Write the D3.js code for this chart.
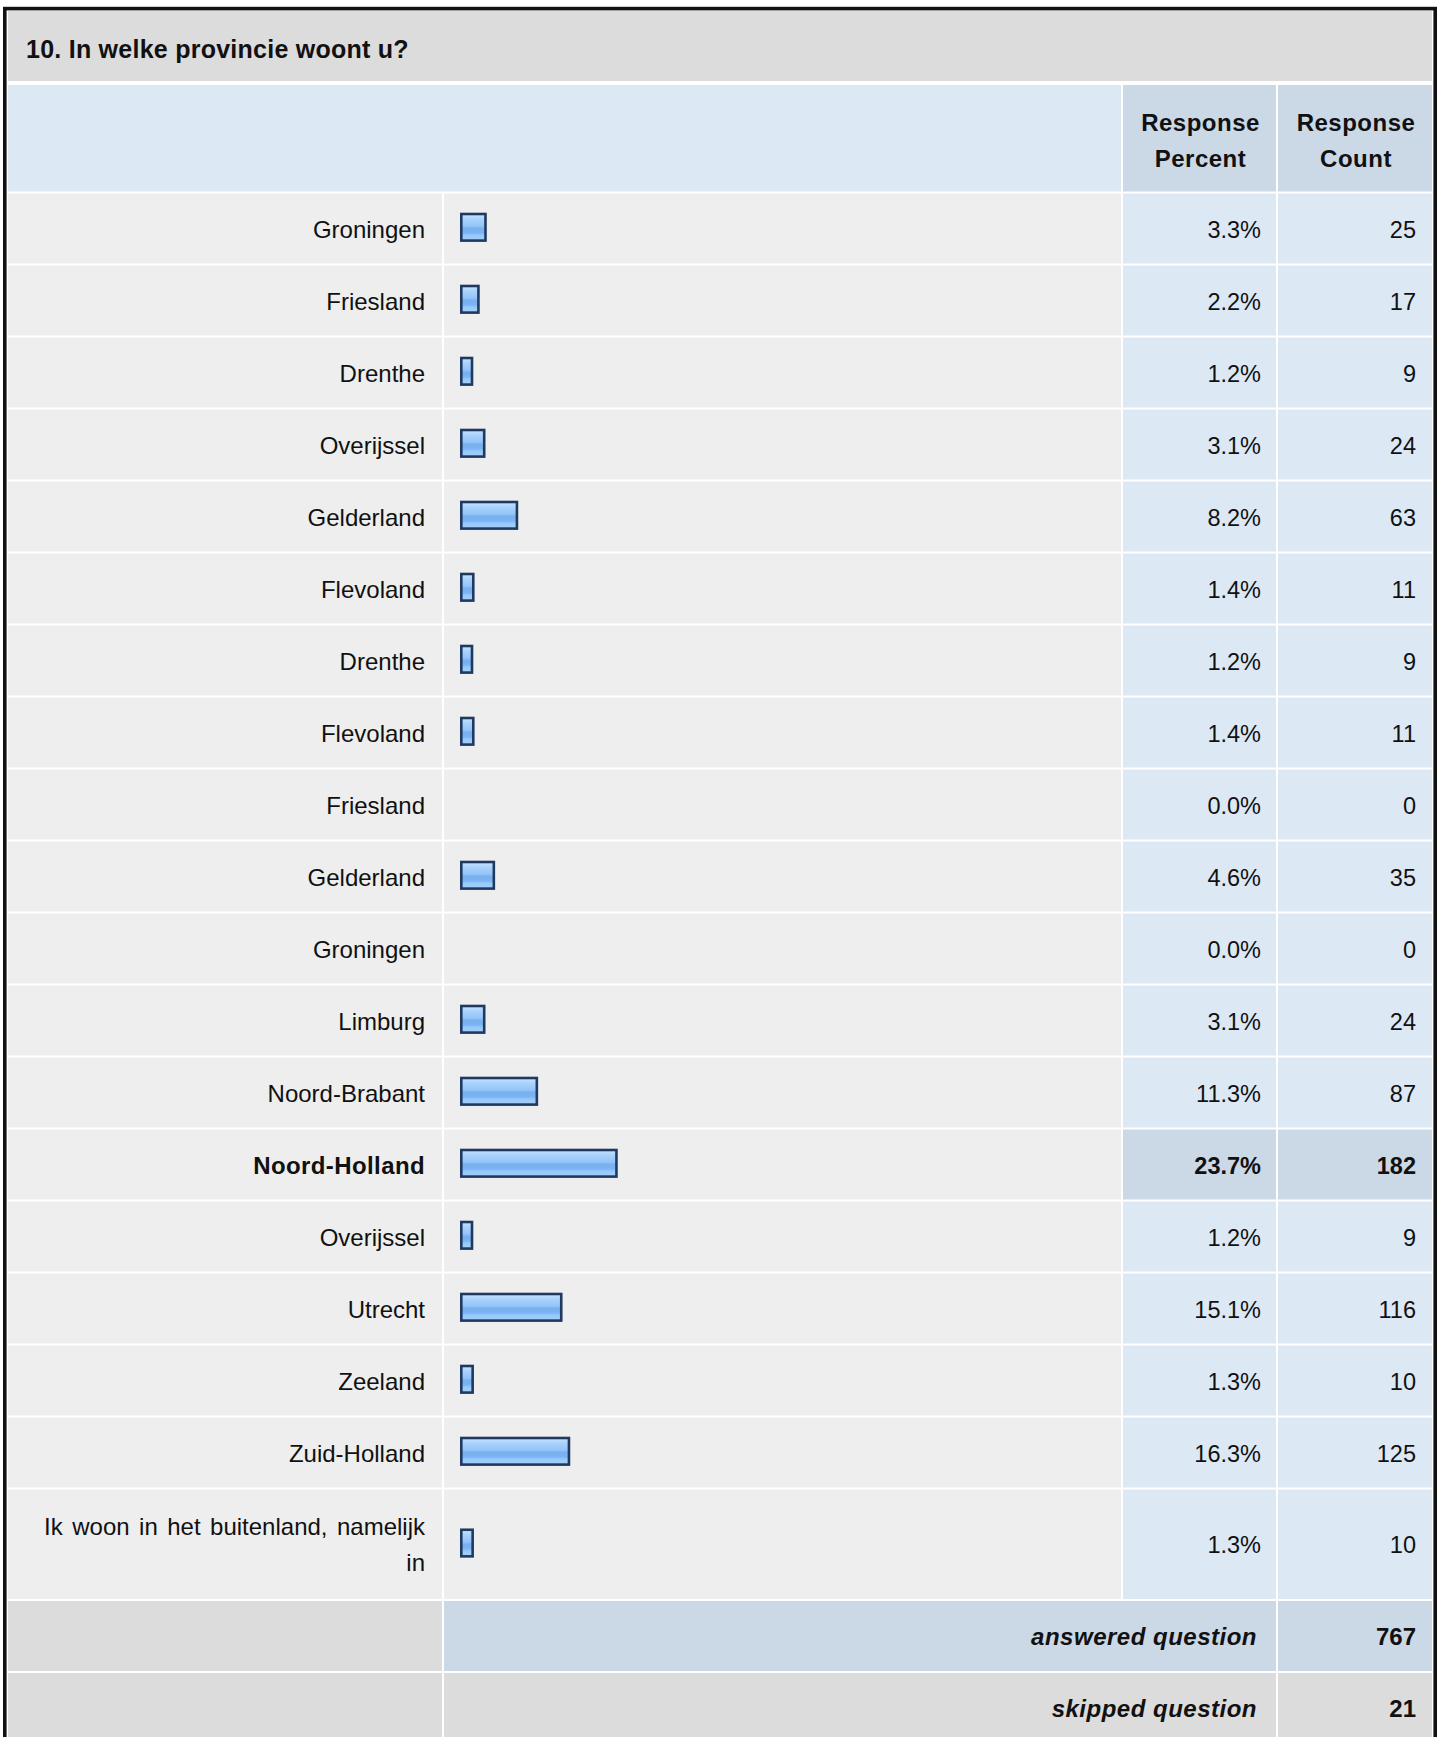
<!DOCTYPE html>
<html>
<head>
<meta charset="utf-8">
<script src="https://cdn.jsdelivr.net/npm/d3@7"></script>
<style>
  html, body { margin: 0; padding: 0; background: #ffffff; }
  svg { display: block; font-family: "Liberation Sans", Arial, sans-serif; }
</style>
</head>
<body>
<svg id="chart" width="1440" height="1737"></svg>
<script>
// ---- data ----
const title = "10. In welke provincie woont u?";
const categories = [
  "Groningen", "Friesland", "Drenthe", "Overijssel", "Gelderland", "Flevoland",
  "Drenthe", "Flevoland", "Friesland", "Gelderland", "Groningen", "Limburg",
  "Noord-Brabant", "Noord-Holland", "Overijssel", "Utrecht", "Zeeland", "Zuid-Holland",
  "Ik woon in het buitenland, namelijk in"
];
const percents = [3.3, 2.2, 1.2, 3.1, 8.2, 1.4, 1.2, 1.4, 0.0, 4.6, 0.0, 3.1, 11.3, 23.7, 1.2, 15.1, 1.3, 16.3, 1.3];
const counts   = [25, 17, 9, 24, 63, 11, 9, 11, 0, 35, 0, 24, 87, 182, 9, 116, 10, 125, 10];
const headerPercent = ["Response", "Percent"];
const headerCount = ["Response", "Count"];
const answeredLabel = "answered question";
const answeredCount = 767;
const skippedLabel = "skipped question";
const skippedCount = 21;

// ---- layout ----
const svg = d3.select("#chart");
const C = { gray: "#dcdcdc", light: "#eeeeee", blue: "#dde8f5", blueDark: "#cbd8e6" };
const cols = { label: [8, 442], bar: [444, 1121], pct: [1123, 1276], cnt: [1278, 1432] };
const rowH = 70, firstRowTop = 193.5;
const lineH = 36;

// wrap long labels into lines
const labelLines = categories.map(c => c.length > 30 ? ["Ik woon in het buitenland, namelijk", "in"] : [c]);
const rowHeights = labelLines.map(l => rowH + (l.length - 1) * (lineH + 3.5));
const rowTops = [];
rowHeights.reduce((acc, h, i) => { rowTops[i] = acc; return acc + h + 2; }, firstRowTop);
const lastBottom = rowTops[rowTops.length - 1] + rowHeights[rowHeights.length - 1];

const x = d3.scaleLinear().domain([0, 100]).range([0, 642]);
const maxCount = d3.max(counts);

// gradient for bars
const defs = svg.append("defs");
const grad = defs.append("linearGradient").attr("id", "barGrad").attr("x1", 0).attr("y1", 0).attr("x2", 0).attr("y2", 1);
[[0, "#c8e4ff"], [0.2, "#a9d2fb"], [0.45, "#93c5f7"], [0.55, "#78aff0"], [0.7, "#7cb3f1"], [0.8, "#98c8f8"], [1, "#a6d0fa"]]
  .forEach(([o, c]) => grad.append("stop").attr("offset", o).attr("stop-color", c));

function cell(x0, x1, y, h, fill) {
  svg.append("rect").attr("x", x0).attr("y", y).attr("width", x1 - x0).attr("height", h).attr("fill", fill);
}

// outer border
svg.append("rect").attr("x", 4.8).attr("y", 8.6).attr("width", 1430.4).attr("height", 1800)
  .attr("fill", "none").attr("stroke", "#111").attr("stroke-width", 3.6);

// title row
cell(8, 1432, 11, 70, C.gray);
svg.append("text").attr("x", 26).attr("y", 57.7).attr("font-size", 25).attr("font-weight", "bold")
  .attr("letter-spacing", 0.25).attr("fill", "#111").text(title);

// header row
const hTop = 85, hH = 106.5;
cell(cols.label[0], cols.bar[1], hTop, hH, C.blue);
cell(cols.pct[0], cols.pct[1], hTop, hH, C.blueDark);
cell(cols.cnt[0], cols.cnt[1], hTop, hH, C.blueDark);
[[cols.pct, headerPercent], [cols.cnt, headerCount]].forEach(([c, lines]) => {
  lines.forEach((t, i) => {
    svg.append("text").attr("x", (c[0] + c[1]) / 2 + 1).attr("y", hTop + 46 + i * lineH)
      .attr("text-anchor", "middle").attr("font-size", 24).attr("font-weight", "bold")
      .attr("letter-spacing", 0.5).attr("fill", "#111").text(t);
  });
});

// data rows
const rows = svg.append("g").selectAll("g").data(categories).join("g")
  .attr("transform", (d, i) => `translate(0,${rowTops[i]})`);

rows.each(function (d, i) {
  const g = d3.select(this);
  const h = rowHeights[i];
  const hi = counts[i] === maxCount;
  g.append("rect").attr("x", cols.label[0]).attr("width", cols.label[1] - cols.label[0]).attr("height", h).attr("fill", C.light);
  g.append("rect").attr("x", cols.bar[0]).attr("width", cols.bar[1] - cols.bar[0]).attr("height", h).attr("fill", C.light);
  g.append("rect").attr("x", cols.pct[0]).attr("width", cols.pct[1] - cols.pct[0]).attr("height", h).attr("fill", hi ? C.blueDark : C.blue);
  g.append("rect").attr("x", cols.cnt[0]).attr("width", cols.cnt[1] - cols.cnt[0]).attr("height", h).attr("fill", hi ? C.blueDark : C.blue);

  const lines = labelLines[i];
  const firstBase = h / 2 - (lines.length - 1) * lineH / 2 + 9;
  lines.forEach((t, k) => {
    g.append("text").attr("x", 425).attr("y", firstBase + k * lineH).attr("text-anchor", "end")
      .attr("font-size", 24).attr("font-weight", hi ? "bold" : "normal")
      .attr("letter-spacing", hi ? 0.4 : 0).attr("word-spacing", 2.8).attr("fill", "#111").text(t);
  });

  if (percents[i] > 0) {
    g.append("rect").attr("x", 461.3).attr("y", h / 2 - 14.5).attr("width", x(percents[i]) + 3)
      .attr("height", 26.6).attr("fill", "url(#barGrad)").attr("stroke", "#1f3a60").attr("stroke-width", 2.6);
  }

  g.append("text").attr("x", 1261).attr("y", h / 2 + 9).attr("text-anchor", "end")
    .attr("font-size", 23.5).attr("font-weight", hi ? "bold" : "normal").attr("fill", "#111")
    .text(percents[i].toFixed(1) + "%");
  g.append("text").attr("x", 1416).attr("y", h / 2 + 9).attr("text-anchor", "end")
    .attr("font-size", 23.5).attr("font-weight", hi ? "bold" : "normal").attr("fill", "#111")
    .text(counts[i]);
});

// footer rows
const aTop = lastBottom + 2, sTop = aTop + rowH + 2;
cell(cols.label[0], cols.label[1], aTop, rowH, C.gray);
cell(cols.bar[0], cols.pct[1], aTop, rowH, C.blueDark);
cell(cols.cnt[0], cols.cnt[1], aTop, rowH, C.blueDark);
cell(cols.label[0], cols.label[1], sTop, rowH, C.gray);
cell(cols.bar[0], cols.pct[1], sTop, rowH, C.gray);
cell(cols.cnt[0], cols.cnt[1], sTop, rowH, C.gray);
[[aTop, answeredLabel, answeredCount], [sTop, skippedLabel, skippedCount]].forEach(([y, lab, n]) => {
  svg.append("text").attr("x", 1257).attr("y", y + rowH / 2 + 9).attr("text-anchor", "end")
    .attr("font-size", 24).attr("font-weight", "bold").attr("font-style", "italic")
    .attr("letter-spacing", 0.5).attr("fill", "#111").text(lab);
  svg.append("text").attr("x", 1416).attr("y", y + rowH / 2 + 9).attr("text-anchor", "end")
    .attr("font-size", 24).attr("font-weight", "bold").attr("fill", "#111").text(n);
});
</script>
</body>
</html>
